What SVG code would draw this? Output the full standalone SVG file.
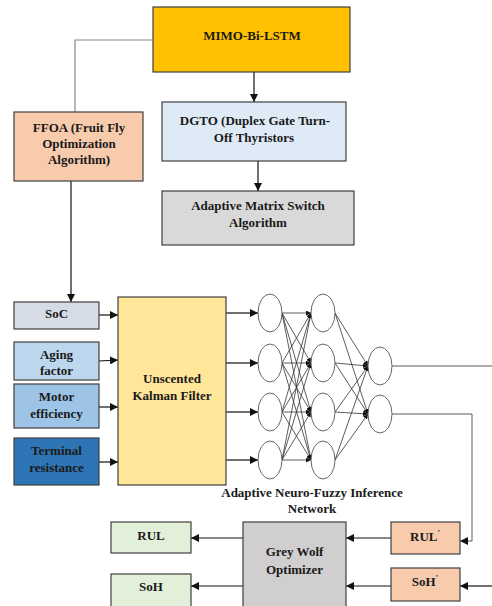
<svg xmlns="http://www.w3.org/2000/svg" width="492" height="606" viewBox="0 0 492 606">
<style>
.box{stroke:#404040;stroke-width:1.2}
.t{font-family:"Liberation Serif","Times New Roman",serif;font-weight:bold;font-size:13px;fill:#1a1a1a;text-anchor:middle}
.c{fill:none;stroke:#111;stroke-width:1.2}
.g{fill:none;stroke:#888;stroke-width:1.2}
.n{fill:#fff;stroke:#666;stroke-width:1}
.nn{fill:none;stroke:#333;stroke-width:0.8}
</style>
<defs>
<marker id="ah" viewBox="0 0 10 10" refX="10" refY="5" markerWidth="8" markerHeight="8" markerUnits="userSpaceOnUse" orient="auto"><path d="M0,0 L10,5 L0,10 z" fill="#111"/></marker>
<marker id="as" viewBox="0 0 10 10" refX="10" refY="5" markerWidth="5" markerHeight="5" markerUnits="userSpaceOnUse" orient="auto"><path d="M0,0 L10,5 L0,10 z" fill="#111"/></marker>
</defs>
<rect width="492" height="606" fill="#fff"/>
<g id="connectors">
<polyline class="g" points="153,40 75,40 75,112"/>
<line class="c" x1="254" y1="72" x2="254" y2="102" marker-end="url(#ah)"/>
<line class="c" x1="258" y1="161" x2="258" y2="191" marker-end="url(#ah)"/>
<line class="c" x1="71" y1="181" x2="71" y2="302" marker-end="url(#ah)"/>
<line class="c" x1="99" y1="315" x2="118" y2="315" marker-end="url(#ah)"/>
<line class="c" x1="99" y1="361" x2="118" y2="360" marker-end="url(#ah)"/>
<line class="c" x1="99" y1="407" x2="118" y2="407" marker-end="url(#ah)"/>
<line class="c" x1="99" y1="462" x2="118" y2="462" marker-end="url(#ah)"/>
<line class="c" x1="226" y1="313" x2="258" y2="313" marker-end="url(#ah)"/>
<line class="c" x1="226" y1="363" x2="258" y2="363" marker-end="url(#ah)"/>
<line class="c" x1="226" y1="412" x2="258" y2="412" marker-end="url(#ah)"/>
<line class="c" x1="226" y1="460" x2="258" y2="460" marker-end="url(#ah)"/>
<g id="ann-links">
<line class="nn" x1="282" y1="313" x2="311" y2="313" marker-end="url(#as)"/>
<line class="nn" x1="282" y1="313" x2="311" y2="363" marker-end="url(#as)"/>
<line class="nn" x1="282" y1="313" x2="311" y2="412" marker-end="url(#as)"/>
<line class="nn" x1="282" y1="313" x2="311" y2="460" marker-end="url(#as)"/>
<line class="nn" x1="282" y1="363" x2="311" y2="313" marker-end="url(#as)"/>
<line class="nn" x1="282" y1="363" x2="311" y2="363" marker-end="url(#as)"/>
<line class="nn" x1="282" y1="363" x2="311" y2="412" marker-end="url(#as)"/>
<line class="nn" x1="282" y1="363" x2="311" y2="460" marker-end="url(#as)"/>
<line class="nn" x1="282" y1="412" x2="311" y2="313" marker-end="url(#as)"/>
<line class="nn" x1="282" y1="412" x2="311" y2="363" marker-end="url(#as)"/>
<line class="nn" x1="282" y1="412" x2="311" y2="412" marker-end="url(#as)"/>
<line class="nn" x1="282" y1="412" x2="311" y2="460" marker-end="url(#as)"/>
<line class="nn" x1="282" y1="460" x2="311" y2="313" marker-end="url(#as)"/>
<line class="nn" x1="282" y1="460" x2="311" y2="363" marker-end="url(#as)"/>
<line class="nn" x1="282" y1="460" x2="311" y2="412" marker-end="url(#as)"/>
<line class="nn" x1="282" y1="460" x2="311" y2="460" marker-end="url(#as)"/>
<line class="nn" x1="335" y1="313" x2="368" y2="366" marker-end="url(#as)"/>
<line class="nn" x1="335" y1="313" x2="368" y2="414" marker-end="url(#as)"/>
<line class="nn" x1="335" y1="363" x2="368" y2="366" marker-end="url(#as)"/>
<line class="nn" x1="335" y1="363" x2="368" y2="414" marker-end="url(#as)"/>
<line class="nn" x1="335" y1="412" x2="368" y2="366" marker-end="url(#as)"/>
<line class="nn" x1="335" y1="412" x2="368" y2="414" marker-end="url(#as)"/>
<line class="nn" x1="335" y1="460" x2="368" y2="366" marker-end="url(#as)"/>
<line class="nn" x1="335" y1="460" x2="368" y2="414" marker-end="url(#as)"/>
</g>
<line class="nn" x1="392" y1="366" x2="492" y2="366"/>
<polyline class="nn" points="392,414 472,414 472,541 460,541" marker-end="url(#ah)"/>
<line class="c" x1="492" y1="586" x2="460" y2="586" marker-end="url(#ah)"/>
<line class="c" x1="391" y1="538" x2="346" y2="538" marker-end="url(#ah)"/>
<line class="c" x1="391" y1="586" x2="346" y2="586" marker-end="url(#ah)"/>
<line class="c" x1="243" y1="538" x2="191" y2="538" marker-end="url(#ah)"/>
<line class="c" x1="243" y1="586" x2="191" y2="586" marker-end="url(#ah)"/>
</g>
<g id="mimo"><rect class="box" x="153" y="7" width="197" height="65" fill="#FFC000"/><text class="t" x="252" y="40">MIMO-Bi-LSTM</text></g>
<g id="ffoa"><rect class="box" x="14" y="112" width="129" height="69" fill="#F8CBAD"/><text class="t" x="79" y="131.5">FFOA (Fruit Fly</text><text class="t" x="79" y="147.5">Optimization</text><text class="t" x="79" y="163.5">Algorithm)</text></g>
<g id="dgto"><rect class="box" x="162" y="102" width="184" height="59" fill="#DEEBF7"/><text class="t" x="255" y="124.5">DGTO (Duplex Gate Turn-</text><text class="t" x="254" y="141.5">Off Thyristors</text></g>
<g id="ams"><rect class="box" x="162" y="191" width="192" height="54" fill="#D9D9D9"/><text class="t" x="258" y="210">Adaptive Matrix Switch</text><text class="t" x="258" y="226.5">Algorithm</text></g>
<g id="soc"><rect class="box" x="14" y="302" width="85" height="27" fill="#D6DCE5"/><text class="t" x="56.5" y="317.5">SoC</text></g>
<g id="aging"><rect class="box" x="14" y="342" width="85" height="38" fill="#BDD7EE"/><text class="t" x="56.5" y="358.5">Aging</text><text class="t" x="56.5" y="375">factor</text></g>
<g id="motor"><rect class="box" x="14" y="384" width="85" height="44" fill="#9DC3E6"/><text class="t" x="56.5" y="401">Motor</text><text class="t" x="56.5" y="417.5">efficiency</text></g>
<g id="terminal"><rect class="box" x="14" y="438" width="85" height="47" fill="#2E75B6"/><text class="t" x="56.5" y="455">Terminal</text><text class="t" x="56.5" y="471.5">resistance</text></g>
<g id="ukf"><rect class="box" x="118" y="297" width="108" height="188" fill="#FFE699"/><text class="t" x="172" y="382.5">Unscented</text><text class="t" x="172" y="400">Kalman Filter</text></g>
<g id="ann">
<g id="n11"><ellipse class="n" cx="270" cy="313" rx="12" ry="19"/></g>
<g id="n12"><ellipse class="n" cx="270" cy="363" rx="12" ry="19"/></g>
<g id="n13"><ellipse class="n" cx="270" cy="412" rx="12" ry="19"/></g>
<g id="n14"><ellipse class="n" cx="270" cy="460" rx="12" ry="19"/></g>
<g id="n21"><ellipse class="n" cx="323" cy="313" rx="12" ry="19"/></g>
<g id="n22"><ellipse class="n" cx="323" cy="363" rx="12" ry="19"/></g>
<g id="n23"><ellipse class="n" cx="323" cy="412" rx="12" ry="19"/></g>
<g id="n24"><ellipse class="n" cx="323" cy="460" rx="12" ry="19"/></g>
<g id="n31"><ellipse class="n" cx="380" cy="366" rx="12" ry="19"/></g>
<g id="n32"><ellipse class="n" cx="380" cy="414" rx="12" ry="19"/></g>
<text class="t" x="312" y="497">Adaptive Neuro-Fuzzy Inference</text><text class="t" x="312" y="512.5">Network</text>
</g>
<g id="rul"><rect class="box" x="111" y="522" width="80" height="31" fill="#E2F0D9"/><text class="t" x="151" y="540">RUL</text></g>
<g id="soh"><rect class="box" x="111" y="574" width="80" height="36" fill="#E2F0D9"/><text class="t" x="151" y="591">SoH</text></g>
<g id="gwo"><rect class="box" x="243" y="522" width="103" height="90" fill="#D0CECE"/><text class="t" x="294.5" y="556">Grey Wolf</text><text class="t" x="294.5" y="573.5">Optimizer</text></g>
<g id="rulp"><rect class="box" x="391" y="522" width="69" height="32" fill="#F8CBAD"/><text class="t" x="425" y="540.5">RUL<tspan font-size="9" dy="-5">'</tspan></text></g>
<g id="sohp"><rect class="box" x="391" y="568" width="69" height="33" fill="#F8CBAD"/><text class="t" x="425" y="585.5">SoH<tspan font-size="9" dy="-5">'</tspan></text></g>
</svg>
